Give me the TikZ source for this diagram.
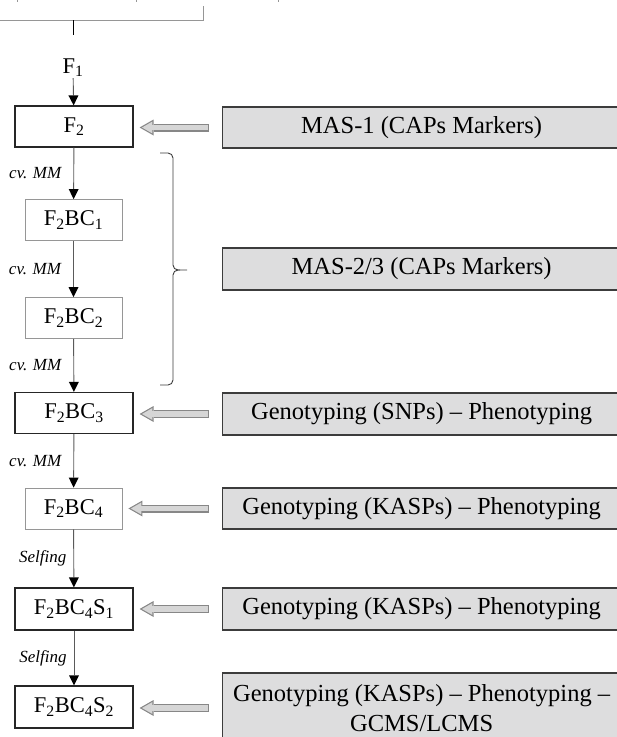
\documentclass[tikz,border=0pt]{standalone}
\usepackage{fontspec}
\setmainfont{Liberation Serif}
\usepackage{xcolor}
\usetikzlibrary{arrows.meta}

\definecolor{boxgray}{RGB}{221,221,222}
\definecolor{edgegray}{RGB}{60,60,60}
\definecolor{lightedge}{RGB}{150,150,150}
\definecolor{arrowfill}{RGB}{214,214,214}
\definecolor{arrowedge}{RGB}{135,135,135}
\definecolor{linegray}{RGB}{90,90,90}

\begin{document}
\begin{tikzpicture}[
    x=1pt, y=-1pt,
    gen/.style={draw=black!85, line width=1.2pt, minimum width=118pt, minimum height=41pt, inner sep=0pt, font=\fontsize{22.5}{27}\selectfont},
    backc/.style={draw=lightedge, line width=0.9pt, minimum width=97pt, minimum height=41pt, inner sep=0pt, font=\fontsize{22.5}{27}\selectfont},
    test/.style={draw=edgegray, fill=boxgray, line width=1.3pt, minimum width=398pt, minimum height=42pt, inner sep=0pt, align=center, anchor=west, font=\fontsize{24.5}{30}\selectfont},
    arrow/.style={draw=linegray, line width=0.9pt, -{Triangle[length=10pt, width=10pt, line width=0pt, color=black]}},
    hollow/.style={draw=arrowedge, line width=8pt, shorten <=13pt, shorten >=6pt, -{Triangle[length=14pt, width=16pt, line width=0pt, color=arrowedge]}},
    hollowin/.style={draw=arrowfill, line width=5.6pt, shorten <=14.2pt, shorten >=8.4pt, -{Triangle[length=10.4pt, width=11.9pt, line width=0pt, color=arrowfill]}},
    cross/.style={font=\itshape\fontsize{17}{20}\selectfont, inner sep=0pt, midway}
]
    \useasboundingbox (0,0) rectangle (617,737);

    % Rest of the upper scheme
    \draw[lightedge, line width=0.9pt] (0,20) -- (203,20) -- (203,6);
    \draw[lightedge, line width=0.9pt] (17,0) -- (17,2) (136,0) -- (136,2) (278,0) -- (278,2);
    \draw[black, line width=0.9pt] (73,20) -- (73,35);

    % Generations
    \node[inner sep=1pt, font=\fontsize{22.5}{27}\selectfont] (f1) at (73,68) {F\textsubscript{1}};
    \node[gen] (f2) at (74,126.5) {F\textsubscript{2}};
    \node[backc] (bc1) at (73.5,220) {F\textsubscript{2}BC\textsubscript{1}};
    \node[backc] (bc2) at (73.5,318) {F\textsubscript{2}BC\textsubscript{2}};
    \node[gen] (bc3) at (74,413) {F\textsubscript{2}BC\textsubscript{3}};
    \node[backc] (bc4) at (73.5,508.5) {F\textsubscript{2}BC\textsubscript{4}};
    \node[gen, minimum height=42pt] (s1) at (74,609) {F\textsubscript{2}BC\textsubscript{4}S\textsubscript{1}};
    \node[gen, minimum height=42pt] (s2) at (74,707) {F\textsubscript{2}BC\textsubscript{4}S\textsubscript{2}};

    % Crosses
    \draw[arrow] (f1) -- (f2);
    \draw[arrow] (f2) -- node[cross, left=12pt] {cv. MM} (bc1);
    \draw[arrow] (bc1) -- node[cross, left=12pt] {cv. MM} (bc2);
    \draw[arrow] (bc2) -- node[cross, left=12pt] {cv. MM} (bc3);
    \draw[arrow] (bc3) -- node[cross, left=12pt] {cv. MM} (bc4);
    \draw[arrow] (bc4) -- node[cross, left=7pt] {Selfing} (s1);
    \draw[arrow] (s1) -- node[cross, left=7pt] {Selfing} (s2);

    % Selection steps
    \node[test, minimum height=41pt] (mas1) at (222,127.5) {MAS-1 (CAPs Markers)};
    \node[test] (mas2) at (222,269) {MAS-2/3 (CAPs Markers)};
    \node[test] (snp) at (222,414) {Genotyping (SNPs) -- Phenotyping};
    \node[test, minimum height=41pt] (kasp1) at (222,508.5) {Genotyping (KASPs) -- Phenotyping};
    \node[test] (kasp2) at (222,609) {Genotyping (KASPs) -- Phenotyping};
    \node[test, minimum height=70pt] (kasp3) at (222,708) {Genotyping (KASPs) -- Phenotyping --\\GCMS/LCMS};

    % Bracket for the backcrosses
    \draw[edgegray, line width=0.9pt, rounded corners=5pt] (160,153) -- (173,153) -- (173,270) -- (187,270);
    \draw[edgegray, line width=0.9pt, rounded corners=5pt] (160,385) -- (173,385) -- (173,270) -- (180,270);

    % Selection arrows
    \foreach \from/\to in {mas1/f2, snp/bc3, kasp1/bc4, kasp2/s1, kasp3/s2}{
        \draw[hollow] (\from.west) -- (\to.east |- \from.west);
        \draw[hollowin] (\from.west) -- (\to.east |- \from.west);
    }
\end{tikzpicture}
\end{document}
